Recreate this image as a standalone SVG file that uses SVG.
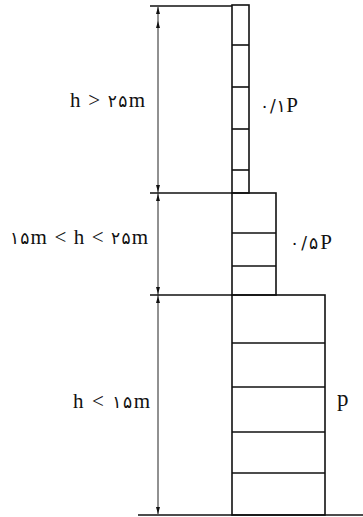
<svg xmlns="http://www.w3.org/2000/svg" width="363" height="517" viewBox="0 0 363 517">
<style>
.ln{stroke:#111;stroke-width:1.6;fill:none}
.dim{stroke:#222;stroke-width:1;fill:none}
.ar{fill:#111}
.t{font-family:'Liberation Serif',serif;font-size:21px;fill:#111}
.d{font-family:'DejaVu Sans','Noto Sans',sans-serif;font-size:17px}
</style>
<rect width="363" height="517" fill="#fff"/>
<g id="column-top">
<rect class="ln" x="232" y="5" width="17" height="188"/>
<line class="ln" x1="232" y1="45" x2="249" y2="45"/>
<line class="ln" x1="232" y1="87" x2="249" y2="87"/>
<line class="ln" x1="232" y1="129" x2="249" y2="129"/>
<line class="ln" x1="232" y1="170" x2="249" y2="170"/>
</g>
<g id="column-middle">
<rect class="ln" x="232" y="193" width="44" height="102"/>
<line class="ln" x1="232" y1="233" x2="276" y2="233"/>
<line class="ln" x1="232" y1="266" x2="276" y2="266"/>
</g>
<g id="column-bottom">
<rect class="ln" x="232" y="295" width="93" height="220"/>
<line class="ln" x1="232" y1="343" x2="325" y2="343"/>
<line class="ln" x1="232" y1="387" x2="325" y2="387"/>
<line class="ln" x1="232" y1="432" x2="325" y2="432"/>
<line class="ln" x1="232" y1="473" x2="325" y2="473"/>
</g>
<g id="connectors">
<line class="ln" x1="150" y1="6" x2="232" y2="6"/>
<line class="ln" x1="150" y1="193" x2="232" y2="193"/>
<line class="ln" x1="150" y1="295" x2="232" y2="295"/>
<line class="ln" x1="138" y1="515" x2="363" y2="515"/>
<line class="dim" x1="158" y1="7" x2="158" y2="514"/>
<path class="ar" d="M158,7 L156,14 L160,14 Z"/>
<path class="ar" d="M158,21 L156,28 L160,28 Z"/>
<path class="ar" d="M158,192 L156,185 L160,185 Z"/>
<path class="ar" d="M158,194 L156,201 L160,201 Z"/>
<path class="ar" d="M158,294 L156,287 L160,287 Z"/>
<path class="ar" d="M158,296 L156,303 L160,303 Z"/>
<path class="ar" d="M158,514 L156,507 L160,507 Z"/>
</g>
<g id="labels">
<text class="t" x="70" y="107" textLength="75" lengthAdjust="spacing">h &gt; <tspan class="d">۲۵</tspan>m</text>
<text class="t" x="10" y="244" textLength="138" lengthAdjust="spacing"><tspan class="d">۱۵</tspan>m &lt; h &lt; <tspan class="d">۲۵</tspan>m</text>
<text class="t" x="73" y="408" textLength="77" lengthAdjust="spacing">h &lt; <tspan class="d">۱۵</tspan>m</text>
<text class="t" x="260" y="112" textLength="38" lengthAdjust="spacing"><tspan class="d">۰/۱</tspan>P</text>
<text class="t" x="290" y="249" textLength="42" lengthAdjust="spacing"><tspan class="d">۰/۵</tspan>P</text>
<text class="t" x="337" y="406" style="font-size:23px">p</text>
</g>
</svg>
